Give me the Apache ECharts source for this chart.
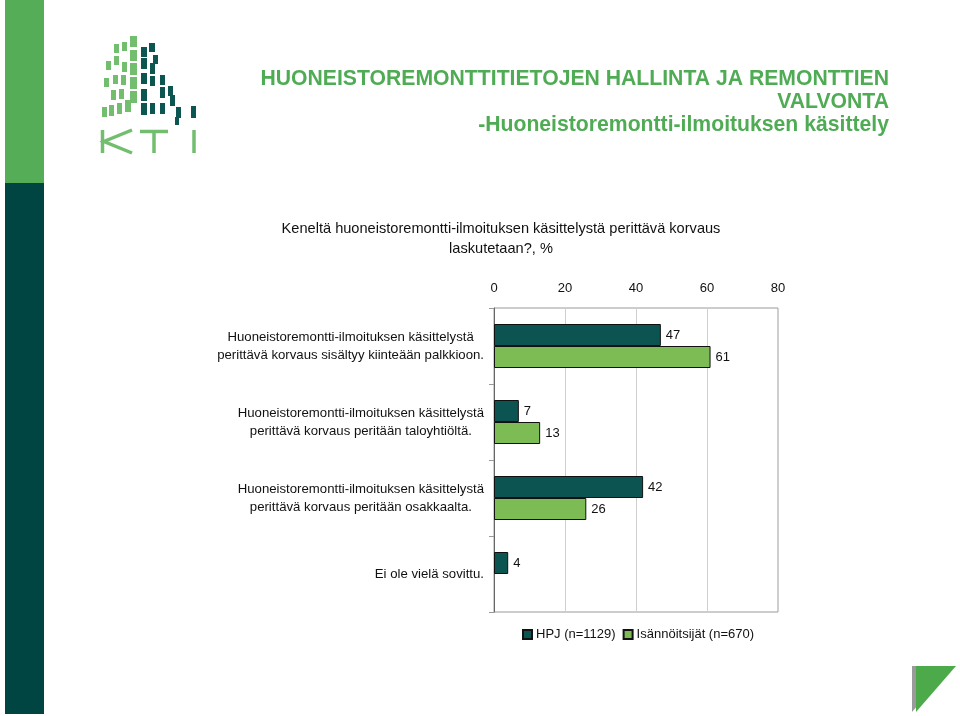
<!DOCTYPE html>
<html>
<head>
<meta charset="utf-8">
<script src="https://cdn.jsdelivr.net/npm/echarts@6/dist/echarts.min.js"></script>
<style>html,body{margin:0;padding:0;background:#fff}#c{width:960px;height:716px}</style>
</head>
<body>
<div id="c"></div>
<script>
const categories = [
  "Huoneistoremontti-ilmoituksen käsittelystä\nperittävä korvaus sisältyy kiinteään palkkioon.",
  "Huoneistoremontti-ilmoituksen käsittelystä\nperittävä korvaus peritään taloyhtiöltä.",
  "Huoneistoremontti-ilmoituksen käsittelystä\nperittävä korvaus peritään osakkaalta.",
  "Ei ole vielä sovittu."
];
const hpjValues = [47, 7, 42, 4];
const isaValues = [61, 13, 26, null];
const seriesNames = ["HPJ (n=1129)", "Isännöitsijät (n=670)"];
const xTicks = [0, 20, 40, 60, 80];

const DARK = '#0C5452';
const LIGHT = '#7DBB55';
const LOGO_G = '#72BE6E';
const LOGO_D = '#0D5550';
const FONT = '"Liberation Sans", Arial, Helvetica, sans-serif';

const chart = echarts.init(document.getElementById('c'), null, {renderer: 'canvas'});

// logo squares (decoration)
const greenSq = [
  [114,44,5,9],[122,42,5,9],[130,36,7,11],
  [106,61,5,9],[114,56,5,9],[130,50,7,11],
  [122,62,5,10],[130,63,7,12],
  [104,78,5,9],[113,75,5,9],[121,75,5,10],[130,77,7,12],
  [111,90,5,10],[119,89,5,10],[130,91,7,12],
  [102,107,5,10],[109,105,5,11],[117,103,5,11],[125,100,6,12]
];
const darkSq = [
  [141,47,6,10],[149,43,6,9],[153,55,5,9],
  [141,58,6,11],[150,63,5,11],
  [141,73,6,11],[150,76,5,10],[160,75,5,10],
  [141,89,6,12],[160,87,5,11],[168,86,5,10],
  [141,103,6,12],[150,103,5,11],[160,103,5,11],[170,95,5,11],
  [176,107,5,11],[191,106,5,12],[175,117,4,8]
];
const graphics = [
  {type:'rect', shape:{x:5,y:0,width:39,height:183}, style:{fill:'#56AD57'}, silent:true},
  {type:'rect', shape:{x:5,y:183,width:39,height:531}, style:{fill:'#004542'}, silent:true},
  {type:'polygon', shape:{points:[[912,666],[952,666],[912,712]]}, style:{fill:'#9A9A9A'}, silent:true},
  {type:'polygon', shape:{points:[[916,666],[956,666],[916,712]]}, style:{fill:'#4DAA4A'}, silent:true},
  {type:'polyline', shape:{points:[[102.5,130],[102.5,153]]}, style:{stroke:LOGO_G,lineWidth:3.5}, silent:true},
  {type:'polyline', shape:{points:[[132,130],[104,141.5],[132,153]]}, style:{stroke:LOGO_G,lineWidth:3.5,fill:null}, silent:true},
  {type:'polyline', shape:{points:[[140,131.5],[168,131.5]]}, style:{stroke:LOGO_G,lineWidth:3.5}, silent:true},
  {type:'polyline', shape:{points:[[154,131],[154,153]]}, style:{stroke:LOGO_G,lineWidth:3.5}, silent:true},
  {type:'polyline', shape:{points:[[194,130],[194,153]]}, style:{stroke:LOGO_G,lineWidth:3.5}, silent:true}
];
greenSq.forEach(s => graphics.push({type:'rect', shape:{x:s[0],y:s[1],width:s[2],height:s[3]}, style:{fill:LOGO_G}, silent:true}));
darkSq.forEach(s => graphics.push({type:'rect', shape:{x:s[0],y:s[1],width:s[2],height:s[3]}, style:{fill:LOGO_D}, silent:true}));

const option = {
  animation: false,
  textStyle: {fontFamily: FONT},
  title: [
    {
      text: "HUONEISTOREMONTTITIETOJEN HALLINTA JA REMONTTIEN\nVALVONTA\n-Huoneistoremontti-ilmoituksen käsittely",
      left: 889, top: 68, textAlign: 'right', padding: 0,
      textStyle: {color: '#4FAB54', fontSize: 21.2, fontWeight: 'bold', lineHeight: 23, fontFamily: FONT}
    },
    {
      text: "Keneltä huoneistoremontti-ilmoituksen käsittelystä perittävä korvaus\nlaskutetaan?, %",
      left: 501, top: 219, textAlign: 'center', padding: 0,
      textStyle: {color: '#111', fontSize: 14.6, fontWeight: 'normal', lineHeight: 20, fontFamily: FONT}
    }
  ],
  legend: {
    data: seriesNames,
    bottom: 70, left: 517,
    itemWidth: 9, itemHeight: 9, itemGap: 7,
    icon: 'rect',
    textStyle: {fontSize: 13, color: '#111', fontFamily: FONT, padding: [0,0,0,-1]}
  },
  grid: {
    left: 494, right: 182, top: 308, bottom: 104,
    show: true, borderColor: '#9a9a9a', borderWidth: 1, containLabel: false
  },
  xAxis: {
    type: 'value', position: 'top', min: 0, max: 80, interval: 20,
    axisLine: {show: false},
    axisTick: {show: false},
    axisLabel: {fontSize: 13, color: '#111', margin: 13, fontFamily: FONT,
      formatter: v => xTicks.indexOf(v) >= 0 ? String(v) : ''},
    splitLine: {show: true, lineStyle: {color: '#cfcfcf', width: 1}}
  },
  yAxis: {
    type: 'category', inverse: true, data: categories,
    axisLine: {show: true, lineStyle: {color: '#666'}},
    axisTick: {show: true, length: 5, lineStyle: {color: '#999'}},
    axisLabel: {
      margin: 10, color: '#111', fontSize: 13.2, fontFamily: FONT, align: 'right',
      formatter: v => v.split('\n').map(l => '{c|' + l + '}').join('\n'),
      rich: {c: {align: 'center', fontSize: 13.2, lineHeight: 18, color: '#111', fontFamily: FONT}}
    },
    splitLine: {show: false}
  },
  series: [
    {
      name: seriesNames[0], type: 'bar', data: hpjValues, barWidth: 22, barGap: '0%',
      itemStyle: {color: DARK, borderColor: '#111', borderWidth: 1},
      label: {show: true, position: 'right', distance: 5, fontSize: 13, color: '#111', fontFamily: FONT}
    },
    {
      name: seriesNames[1], type: 'bar', data: isaValues, barWidth: 22, barGap: '0%',
      itemStyle: {color: LIGHT, borderColor: '#111', borderWidth: 1},
      label: {show: true, position: 'right', distance: 5, fontSize: 13, color: '#111', fontFamily: FONT}
    }
  ],
  graphic: graphics
};
chart.setOption(option);
</script>
</body>
</html>
